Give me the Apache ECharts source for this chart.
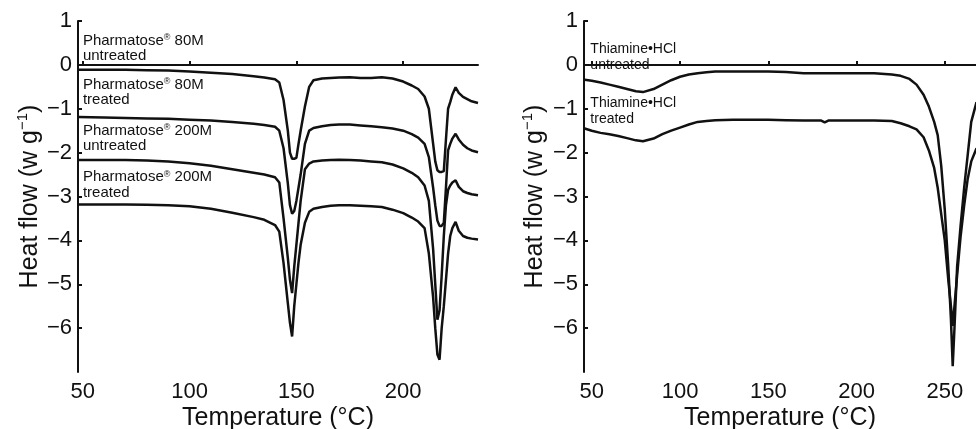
<!DOCTYPE html>
<html>
<head>
<meta charset="utf-8">
<script src="https://cdn.jsdelivr.net/npm/echarts@6/dist/echarts.min.js"></script>
<style>
  html, body { margin: 0; padding: 0; background: #fff; }
  #chart { width: 976px; height: 429px; }
</style>
</head>
<body>
<div id="chart"></div>
<script>
// left panel: lactose (Pharmatose) samples
var tempsL = [48, 60, 70, 80, 90, 100, 110, 120, 130, 135, 140, 142, 144, 146, 147, 148, 149, 150, 151, 152, 154, 156, 158,
  162, 166, 170, 175, 180, 185, 190, 195, 200, 204, 207, 210, 212, 214, 215, 216, 217, 218, 219, 220, 221, 222, 223, 224.5,
  226, 228, 230, 232, 235];
var p80Untreated = [-0.11, -0.11, -0.11, -0.12, -0.13, -0.15, -0.18, -0.21, -0.26, -0.29, -0.33, -0.4, -0.8, -1.5, -2.0, -2.14,
  -2.14, -2.12, -1.8, -1.5, -0.95, -0.5, -0.35, -0.31, -0.3, -0.29, -0.28, -0.3, -0.3, -0.28, -0.31, -0.38, -0.47, -0.55, -0.72,
  -1.0, -1.8, -2.2, -2.4, -2.44, -2.44, -2.42, -1.7, -1.0, -0.85, -0.68, -0.51, -0.64, -0.73, -0.78, -0.83, -0.87];
var p80Treated = [-1.19, -1.2, -1.21, -1.22, -1.23, -1.25, -1.27, -1.3, -1.34, -1.37, -1.41, -1.5, -1.9, -2.7, -3.2, -3.39,
  -3.33, -3.1, -2.8, -2.5, -1.8, -1.5, -1.44, -1.4, -1.37, -1.36, -1.36, -1.38, -1.4, -1.42, -1.45, -1.5, -1.58, -1.66, -1.8,
  -2.1, -2.8, -3.2, -3.55, -3.67, -3.67, -3.6, -2.8, -1.95, -1.8, -1.68, -1.57, -1.7, -1.82, -1.9, -1.95, -1.99];
var p200Untreated = [-2.17, -2.17, -2.17, -2.18, -2.2, -2.24, -2.3, -2.38, -2.46, -2.5, -2.56, -2.68, -3.5, -4.4, -4.9, -5.2,
  -4.6, -4.1, -3.6, -3.1, -2.38, -2.25, -2.2, -2.18, -2.17, -2.16, -2.17, -2.18, -2.2, -2.22, -2.27, -2.36, -2.46, -2.56, -2.75,
  -3.1, -4.2, -5.0, -5.81, -5.6, -4.8, -3.9, -3.2, -2.85, -2.75, -2.68, -2.63, -2.78, -2.88, -2.92, -2.95, -2.97];
var p200Treated = [-3.18, -3.18, -3.18, -3.19, -3.2, -3.22, -3.28, -3.37, -3.47, -3.53, -3.65, -3.8, -4.52, -5.43, -5.88, -6.19,
  -5.5, -5.0, -4.5, -4.1, -3.6, -3.35, -3.28, -3.24, -3.21, -3.2, -3.2, -3.21, -3.22, -3.24, -3.3, -3.38, -3.48, -3.57, -3.72,
  -4.3, -5.3, -6.0, -6.6, -6.72, -6.0, -5.5, -4.9, -4.3, -3.9, -3.72, -3.58, -3.78, -3.9, -3.94, -3.96, -3.98];

// right panel: thiamine HCl
var tempsR = [46, 50, 55, 60, 65, 70, 75, 79, 85, 90, 95, 100, 105, 110, 115, 120, 130, 140, 150, 160, 170, 180, 182, 184,
  190, 200, 210, 220, 225, 230, 234, 238, 241, 244, 246, 248, 250, 252, 253.5, 254.5, 255.5, 257, 259, 261, 263, 265, 268];
var thiUntreated = [-0.34, -0.36, -0.4, -0.45, -0.5, -0.55, -0.6, -0.62, -0.55, -0.45, -0.35, -0.27, -0.22, -0.19, -0.17,
  -0.15, -0.15, -0.15, -0.15, -0.16, -0.19, -0.19, -0.19, -0.19, -0.19, -0.19, -0.19, -0.22, -0.25, -0.32, -0.45, -0.68,
  -0.95, -1.3, -1.6, -2.3, -3.3, -4.6, -5.8, -6.87, -6.0, -4.6, -3.65, -2.8, -2.05, -1.3, -0.85];
var thiTreated = [-1.45, -1.5, -1.55, -1.58, -1.62, -1.67, -1.72, -1.74, -1.68, -1.58, -1.5, -1.43, -1.36, -1.3, -1.28, -1.26,
  -1.25, -1.25, -1.25, -1.26, -1.27, -1.27, -1.31, -1.27, -1.27, -1.27, -1.27, -1.28, -1.33, -1.4, -1.47, -1.65, -1.95, -2.35,
  -2.8, -3.4, -4.0, -4.9, -5.5, -5.95, -5.5, -4.8, -3.9, -3.2, -2.6, -2.2, -1.9];

var xTicksL = [50, 100, 150, 200];
var xTicksR = [50, 100, 150, 200, 250];
var yTicks = [1, 0, -1, -2, -3, -4, -5, -6];

// [temperature, heat flow, text] for the curve labels
var labelsL = [
  [50.1, 0.38, '{a|Pharmatose}{s|®}{a| 80M}\n{a|untreated}'],
  [50.1, -0.63, '{a|Pharmatose}{s|®}{a| 80M}\n{a|treated}'],
  [50.1, -1.68, '{a|Pharmatose}{s|®}{a| 200M}\n{a|untreated}'],
  [50.1, -2.74, '{a|Pharmatose}{s|®}{a| 200M}\n{a|treated}']
];
var labelsR = [
  [49.2, 0.18, '{a|Thiamine•HCl}\n{a|untreated}'],
  [49.2, -1.05, '{a|Thiamine•HCl}\n{a|treated}']
];

var FONT = '"Liberation Sans", Arial, Helvetica, sans-serif';
var INK = '#111';

function zip(xs, ys) {
  return xs.map(function (x, i) { return [x, ys[i]]; });
}

function xAxisOf(idx, min, max, ticks) {
  return {
    type: 'value', gridIndex: idx, min: min, max: max,
    name: 'Temperature (°C)', nameLocation: 'middle', nameGap: 34, nameMoveOverlap: false,
    nameTextStyle: { fontFamily: FONT, fontSize: 25, color: INK },
    axisLine: { lineStyle: { color: INK, width: 2 } },
    axisTick: { inside: true, length: 4, customValues: ticks, lineStyle: { color: INK, width: 2 } },
    axisLabel: { customValues: ticks, margin: 9, fontFamily: FONT, fontSize: 22, color: INK },
    splitLine: { show: false }
  };
}

function yAxisOf(idx, gap) {
  return {
    type: 'value', gridIndex: idx, min: -7, max: 1,
    name: '{t|Heat flow (w g}{u|−1}{t|)}', nameLocation: 'middle', nameGap: gap, nameRotate: 90,
    nameMoveOverlap: false,
    nameTextStyle: {
      rich: {
        t: { fontFamily: FONT, fontSize: 25, color: INK, lineHeight: 30, verticalAlign: 'middle' },
        u: { fontFamily: FONT, fontSize: 15, color: INK, lineHeight: 30, verticalAlign: 'top' }
      }
    },
    axisLine: { onZero: false, lineStyle: { color: INK, width: 2 } },
    axisTick: { inside: true, length: 4, customValues: yTicks, lineStyle: { color: INK, width: 2 } },
    axisLabel: {
      customValues: yTicks, margin: 6, fontFamily: FONT, fontSize: 22, color: INK,
      formatter: function (v) { return String(v).replace('-', '−'); }
    },
    splitLine: { show: false }
  };
}

function labelPoints(list, size, lh) {
  return {
    symbol: 'circle', symbolSize: 0, silent: true, animation: false,
    label: {
      show: true, position: 'right', distance: 0, align: 'left',
      formatter: function (p) { return p.name; },
      rich: {
        a: { fontFamily: FONT, fontSize: size, lineHeight: lh, color: INK, verticalAlign: 'middle' },
        s: { fontFamily: FONT, fontSize: Math.round(size * 0.6), lineHeight: lh, color: INK, verticalAlign: 'top' }
      }
    },
    data: list.map(function (l) { return { name: l[2], coord: [l[0], l[1]] }; })
  };
}

function curve(idx, xs, ys, mark) {
  var s = {
    type: 'line', xAxisIndex: idx, yAxisIndex: idx, data: zip(xs, ys),
    showSymbol: false, symbol: 'none', animation: false, silent: true,
    lineStyle: { color: INK, width: 2.5 }
  };
  if (mark) s.markPoint = mark;
  return s;
}

var chart = echarts.init(document.getElementById('chart'), null, { renderer: 'canvas' });
chart.setOption({
  backgroundColor: '#fff',
  grid: [
    { left: 78, top: 21, width: 400, height: 351, outerBoundsMode: 'none', containLabel: false },
    { left: 584, top: 21, right: 0, height: 351, outerBoundsMode: 'none', containLabel: false }
  ],
  xAxis: [xAxisOf(0, 47.8, 235, xTicksL), xAxisOf(1, 45.6, 267.7, xTicksR)],
  yAxis: [yAxisOf(0, 33), yAxisOf(1, 34)],
  series: [
    curve(0, tempsL, p80Untreated, labelPoints(labelsL, 15, 15.5)),
    curve(0, tempsL, p80Treated),
    curve(0, tempsL, p200Untreated),
    curve(0, tempsL, p200Treated),
    curve(1, tempsR, thiUntreated, labelPoints(labelsR, 14, 16)),
    curve(1, tempsR, thiTreated)
  ]
});
</script>
</body>
</html>
